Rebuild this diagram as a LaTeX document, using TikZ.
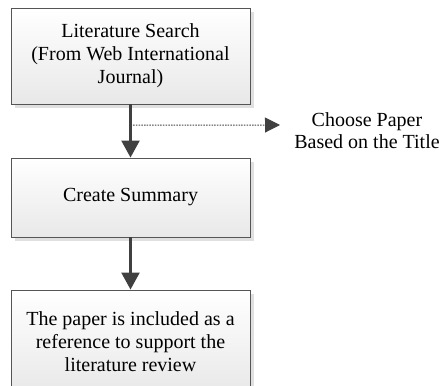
\documentclass[tikz,border=0pt]{standalone}
\usepackage{fontspec}
\setmainfont{Liberation Serif}
\usetikzlibrary{arrows.meta, shadows, calc}
\definecolor{boxline}{RGB}{85,85,85}
\definecolor{arrowgray}{RGB}{64,64,64}

\tikzset{
  stepbox/.style={draw=boxline, line width=0.9pt, top color=white, bottom color=black!9,
    minimum width=239pt, align=center, font=\fontsize{20}{23}\selectfont,
    drop shadow={shadow xshift=4pt, shadow yshift=-4pt, fill=black!12, opacity=1}},
  flow/.style={draw=arrowgray, line width=2.4pt, -{Triangle[width=18pt,length=17pt]}},
  side/.style={draw=arrowgray, line width=1pt, dash pattern=on 1.5pt off 1.2pt, -{Triangle[width=15pt,length=15pt]}}
}

\begin{document}
\begin{tikzpicture}[x=1pt, y=1pt]
  \useasboundingbox (0,0) rectangle (441,-385);
  \node[stepbox, minimum height=96pt] (search) at (130.5,-56) {Literature Search\\(From Web International\\Journal)};
  \node[stepbox, minimum height=79pt] (summary) at (130.5,-197.5) {Create Summary};
  \node[stepbox, minimum height=104pt] (review) at (130.5,-342) {The paper is included as a\\reference to support the\\literature review};
  \node[align=center, font=\fontsize{20}{22}\selectfont] (choose) at (367,-131) {Choose Paper\\Based on the Title};

  \draw[flow] (search) -- (summary);
  \draw[flow] (summary) -- (review);

  \coordinate (split) at ($(search.south)!0.39!(summary.north)$);
  \coordinate (tip) at (280,-125);
  \draw[side] (split) -- (tip);
\end{tikzpicture}
\end{document}
